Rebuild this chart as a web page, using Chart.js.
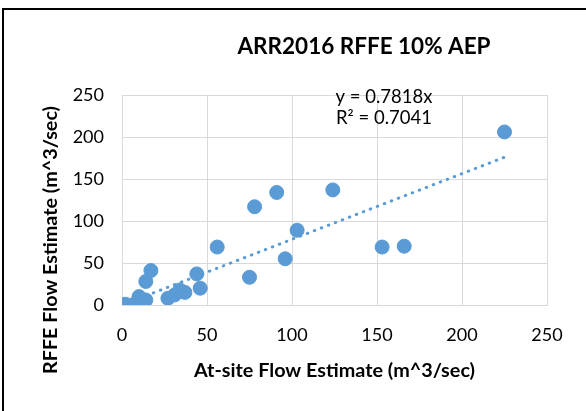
<!DOCTYPE html>
<html>
<head>
<meta charset="utf-8">
<script src="https://cdn.jsdelivr.net/npm/chart.js@4/dist/chart.umd.min.js"></script>
<style>
  html, body { margin: 0; padding: 0; background: #fff; overflow: hidden; }
  #wrap { position: absolute; left: 0; top: 0; width: 586px; height: 411px; }
</style>
</head>
<body>
<div id="wrap"><canvas id="c" width="586" height="411"></canvas></div>
<script>
const chartTitle = 'ARR2016 RFFE 10% AEP';
const xAxisTitle = 'At-site Flow Estimate (m^3/sec)';
const yAxisTitle = 'RFFE Flow Estimate (m^3/sec)';
const trendSlope = 0.7818;
const trendLabel = ['y = 0.7818x', 'R\u00B2 = 0.7041'];
const xTicks = [0, 50, 100, 150, 200, 250];
const yTicks = [0, 50, 100, 150, 200, 250];

const siteFlow = [2, 8, 10, 13, 14, 14, 17, 27, 31, 34, 37, 44, 46, 56, 75, 78, 91, 96, 103, 124, 153, 166, 225];
const rffeFlow = [1, 2, 10, 3, 6, 28, 41, 8, 12, 18, 15, 37, 20, 69, 33, 117, 134, 55, 89, 137, 69, 70, 206];

const points = siteFlow.map((x, i) => ({ x: x, y: rffeFlow[i] }));
const xMin = Math.min(...siteFlow), xMax = Math.max(...siteFlow);
const trendPoints = [{ x: xMin, y: trendSlope * xMin }, { x: xMax, y: trendSlope * xMax }];

const blue = '#5B9BD5';
const gridColor = '#D9D9D9';
const FONT = 'Lato, "Open Sans", sans-serif';

const decorPlugin = {
  id: 'decor',
  beforeDraw(chart) {
    const ctx = chart.ctx;
    ctx.save();
    ctx.fillStyle = '#fff';
    ctx.fillRect(0, 0, chart.width, chart.height);
    ctx.fillStyle = '#000';
    ctx.fillRect(2, 8, 2, chart.height);
    ctx.fillRect(2, 8, chart.width, 2);
    ctx.restore();
  },
  afterDraw(chart) {
    const ctx = chart.ctx;
    ctx.save();
    ctx.fillStyle = '#000';
    ctx.textAlign = 'center';
    ctx.textBaseline = 'alphabetic';
    ctx.font = 'bold 22.5px ' + FONT;
    ctx.fillText(chartTitle, 364, 54);
    ctx.font = '18.5px ' + FONT;
    ctx.fillText(trendLabel[0], 384, 103);
    ctx.fillText(trendLabel[1], 384, 124);
    // y-axis title (offset below the plot centre, as in the reference)
    ctx.translate(57, 240);
    ctx.rotate(-Math.PI / 2);
    ctx.font = 'bold 19.8px ' + FONT;
    ctx.fillText(yAxisTitle, 0, 0);
    ctx.restore();
  }
};

new Chart(document.getElementById('c'), {
  type: 'scatter',
  data: {
    datasets: [
      {
        label: 'Trend',
        type: 'line',
        data: trendPoints,
        borderColor: blue,
        borderWidth: 3,
        borderDash: [0.5, 7],
        borderCapStyle: 'round',
        pointRadius: 0,
        fill: false,
        order: 2
      },
      {
        label: 'Sites',
        data: points,
        backgroundColor: blue,
        borderColor: blue,
        pointRadius: 7,
        pointHoverRadius: 7,
        order: 1
      }
    ]
  },
  options: {
    responsive: false,
    animation: false,
    events: [],
    layout: { padding: { top: 95, right: 39, left: 0, bottom: 0 } },
    plugins: {
      legend: { display: false },
      tooltip: { enabled: false },
      title: { display: false }
    },
    scales: {
      x: {
        type: 'linear',
        min: 0, max: 250,
        afterFit(s) { s.height = 106; },
        afterBuildTicks(s) { s.ticks = xTicks.map(v => ({ value: v })); },
        grid: { color: gridColor, lineWidth: 1, drawTicks: false },
        border: { color: gridColor, width: 1 },
        ticks: { color: '#000', font: { family: FONT, size: 18 }, padding: 19, maxRotation: 0 },
        title: { display: true, text: xAxisTitle, color: '#000', font: { family: FONT, size: 19.8, weight: 'bold' }, padding: { bottom: 29 } }
      },
      y: {
        type: 'linear',
        min: 0, max: 250,
        afterFit(s) { s.width = 122; },
        afterBuildTicks(s) { s.ticks = yTicks.map(v => ({ value: v })); },
        grid: { color: gridColor, lineWidth: 1, drawTicks: false },
        border: { color: gridColor, width: 1 },
        ticks: { color: '#000', font: { family: FONT, size: 18 }, padding: 18 },
        title: { display: false, text: yAxisTitle }
      }
    }
  },
  plugins: [decorPlugin]
});
</script>
</body>
</html>
